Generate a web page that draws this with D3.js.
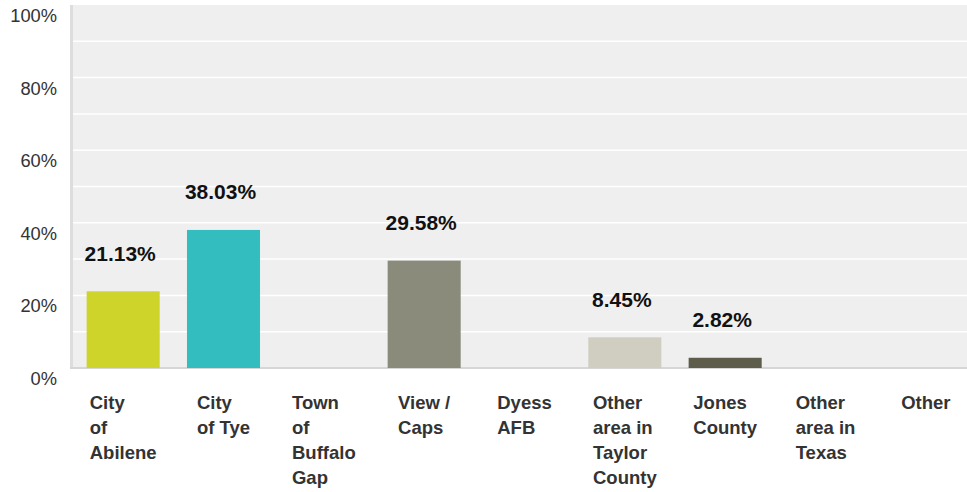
<!DOCTYPE html>
<html>
<head>
<meta charset="utf-8">
<script src="https://cdnjs.cloudflare.com/ajax/libs/d3/7.8.5/d3.min.js"></script>
<style>
  body { margin: 0; background: #fff; }
  svg { display: block; font-family: "Liberation Sans", Arial, sans-serif; }
</style>
</head>
<body>
<svg id="chart" width="967" height="492"></svg>
<script>
// categories, one entry per line of the wrapped label
const categories = [
  ["City", "of", "Abilene"],
  ["City", "of Tye"],
  ["Town", "of", "Buffalo", "Gap"],
  ["View /", "Caps"],
  ["Dyess", "AFB"],
  ["Other", "area in", "Taylor", "County"],
  ["Jones", "County"],
  ["Other", "area in", "Texas"],
  ["Other"]
];
const values = [21.13, 38.03, 0, 29.58, 0, 8.45, 2.82, 0, 0];
const barColors = ["#cfd42b", "#33bdbf", "#a3a38f", "#8a8b7a", "#b6b59f", "#cfcec0", "#5e5d4c", "#9c9b86", "#777662"];
const yTicks = [0, 20, 40, 60, 80, 100];
const gridTicks = [10, 20, 30, 40, 50, 60, 70, 80, 90];

const svg = d3.select("#chart");
const width = +svg.attr("width");
const height = +svg.attr("height");

const margin = { top: 5, left: 73, bottom: 124 };
const plotRight = 976; // plot runs past the window edge, as in the original
const y0 = height - margin.bottom;

const data = values.map((v, i) => ({ i: i, value: v, lines: categories[i] }));

const x = d3.scaleBand()
  .domain(d3.range(categories.length))
  .range([margin.left, plotRight])
  .paddingInner(0.272)
  .paddingOuter(0.136);

const y = d3.scaleLinear()
  .domain([0, 100])
  .range([y0, margin.top]);

// plot background
svg.append("rect")
  .attr("x", margin.left)
  .attr("y", y(100))
  .attr("width", width - margin.left)
  .attr("height", y(0) - y(100))
  .attr("fill", "#efefef");

// white gridlines
svg.append("g").selectAll("line").data(gridTicks)
  .enter().append("line")
    .attr("x1", margin.left)
    .attr("x2", width)
    .attr("y1", d => y(d))
    .attr("y2", d => y(d))
    .attr("stroke", "#fff")
    .attr("stroke-width", 1.5);

// left axis and baseline
svg.append("line")
  .attr("x1", margin.left - 1.5).attr("x2", margin.left - 1.5)
  .attr("y1", y(100)).attr("y2", y(0) + 1)
  .attr("stroke", "#dddddd").attr("stroke-width", 3);
svg.append("line")
  .attr("x1", margin.left - 3).attr("x2", width)
  .attr("y1", y(0)).attr("y2", y(0))
  .attr("stroke", "#d6d6d6").attr("stroke-width", 2);

// y axis labels
const yAxis = d3.axisLeft(y)
  .tickValues(yTicks)
  .tickFormat(d => d + "%")
  .tickSize(0)
  .tickPadding(0);

const yAxisG = svg.append("g")
  .attr("transform", `translate(57, 0)`)
  .call(yAxis);
yAxisG.select(".domain").remove();
yAxisG.selectAll("text")
  .attr("dy", "16.5")
  .attr("font-size", 18.3)
  .attr("font-family", "Liberation Sans, Arial, sans-serif")
  .attr("fill", "#333");

// bars
svg.append("g").selectAll("rect").data(data.filter(d => d.value > 0))
  .enter().append("rect")
    .attr("x", d => x(d.i))
    .attr("width", x.bandwidth())
    .attr("y", d => y(d.value))
    .attr("height", d => y(0) - y(d.value))
    .attr("fill", d => barColors[d.i]);

// value labels
svg.append("g").selectAll("text").data(data.filter(d => d.value > 0))
  .enter().append("text")
    .attr("x", d => x(d.i) + x.bandwidth() / 2 - 3)
    .attr("y", d => y(d.value) - 30.5)
    .attr("text-anchor", "middle")
    .attr("font-size", 21)
    .attr("font-weight", "bold")
    .attr("fill", "#111")
    .text(d => d.value.toFixed(2) + "%");

// category labels: left aligned block, centered on the band
const catG = svg.append("g").selectAll("text").data(data)
  .enter().append("text")
    .attr("font-size", 18.5)
    .attr("font-weight", "bold")
    .attr("fill", "#333");

catG.selectAll("tspan").data(d => d.lines)
  .enter().append("tspan")
    .attr("dy", (d, j) => j === 0 ? 0 : 25)
    .text(d => d);

catG.each(function(d) {
  const t = d3.select(this);
  let w = 0;
  t.selectAll("tspan").each(function() { w = Math.max(w, this.getComputedTextLength()); });
  const left = x(d.i) + x.bandwidth() / 2 - w / 2;
  t.attr("y", 409);
  t.selectAll("tspan").attr("x", left);
});
</script>
</body>
</html>
